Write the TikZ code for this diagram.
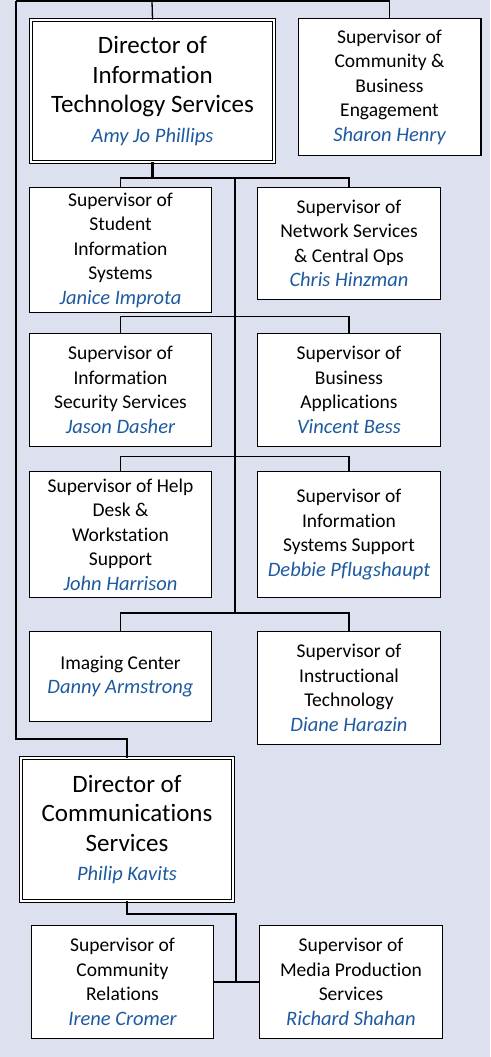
\documentclass[tikz,border=0pt]{standalone}
\usepackage{fontspec}
\setmainfont{Carlito}[Ligatures=NoCommon]
\definecolor{bg}{RGB}{221,224,238}
\definecolor{nm}{RGB}{30,90,160}
\newcommand{\who}[1]{{\fontsize{20.5}{24.5}\selectfont\color{nm}\itshape #1}}
\begin{document}
\begin{tikzpicture}[x=1pt,y=-1pt,
  box/.style={draw=black, line width=1.4pt, fill=white, inner sep=0pt, align=center,
    font=\fontsize{19.5}{24.5}\selectfont},
  dirbox/.style={box, double=white, double distance=2.2pt, line width=1.1pt,
    font=\fontsize{25}{29.5}\selectfont},
  conn/.style={line width=1.3pt},
  trunk/.style={line width=2.6pt}]
\fill[bg] (0,0) rectangle (490,1057);
\useasboundingbox (0,0) rectangle (490,1057);

% Nodes
\node[dirbox, minimum width=242.6pt, minimum height=141.6pt] (dirIT) at (152.5,91)
  {Director of\\Information\\Technology Services\\\who{Amy Jo Phillips}};
\node[box, minimum width=182.6pt, minimum height=136.6pt] (cbe) at (389.5,87)
  {Supervisor of\\Community \&\\Business\\Engagement\\\who{Sharon Henry}};

\node[box, minimum width=181.6pt, minimum height=124.6pt] (sis) at (120.5,250)
  {Supervisor of\\Student\\Information\\Systems\\\who{Janice Improta}};
\node[box, minimum width=182.6pt, minimum height=111.6pt] (net) at (349,243.5)
  {Supervisor of\\Network Services\\\& Central Ops\\\who{Chris Hinzman}};

\node[box, minimum width=181.6pt, minimum height=112.6pt] (sec) at (120.5,390)
  {Supervisor of\\Information\\Security Services\\\who{Jason Dasher}};
\node[box, minimum width=182.6pt, minimum height=112.6pt] (bus) at (349,390)
  {Supervisor of\\Business\\Applications\\\who{Vincent Bess}};

\node[box, minimum width=181.6pt, minimum height=125.6pt] (help) at (120.5,534.5)
  {Supervisor of Help\\Desk \&\\Workstation\\Support\\\who{John Harrison}};
\node[box, minimum width=182.6pt, minimum height=125.6pt] (iss) at (349,534.5)
  {Supervisor of\\Information\\Systems Support\\\who{Debbie Pflugshaupt}};

\node[box, minimum width=181.6pt, minimum height=89.6pt] (img) at (120.5,676.5)
  {Imaging Center\\\who{Danny Armstrong}};
\node[box, minimum width=182.6pt, minimum height=112.6pt] (inst) at (349,688)
  {Supervisor of\\Instructional\\Technology\\\who{Diane Harazin}};

\node[dirbox, minimum width=211.6pt, minimum height=142.6pt] (dirC) at (127,829.5)
  {Director of\\Communications\\Services\\\who{Philip Kavits}};

\node[box, minimum width=181.6pt, minimum height=112.6pt] (comm) at (122.5,982)
  {Supervisor of\\Community\\Relations\\\who{Irene Cromer}};
\node[box, minimum width=182.6pt, minimum height=112.6pt] (media) at (351,982)
  {Supervisor of\\Media Production\\Services\\\who{Richard Shahan}};

% Coordinates
\coordinate (tl) at (16,1);
\coordinate (tm) at (152,1);
\coordinate (tr) at (389.5,1);
\coordinate (lb) at (16,739);
\coordinate (j1) at (235,178);
\coordinate (j4) at (235,613);
\coordinate (cj) at (236,914);

% Connectors
\draw[conn] (tl) -- (tr);
\draw[conn] (tm) -- (dirIT.north);
\draw[conn] (tr) -- (cbe.north);
\draw[conn] (tl) -- (lb) -| (dirC.north);

\draw[conn] (sis.north) |- (j1) -| (net.north);
\draw[conn] (sec.north) |- (235,316.5) -| (bus.north);
\draw[conn] (help.north) |- (235,456.5) -| (iss.north);
\draw[conn] (img.north) |- (j4) -| (inst.north);
\draw[trunk] (dirIT.south) |- (j1) -- (j4);

\draw[conn] (dirC.south) |- (cj) -- (236,982);
\draw[conn] (comm.east) -- (media.west);
\end{tikzpicture}
\end{document}
